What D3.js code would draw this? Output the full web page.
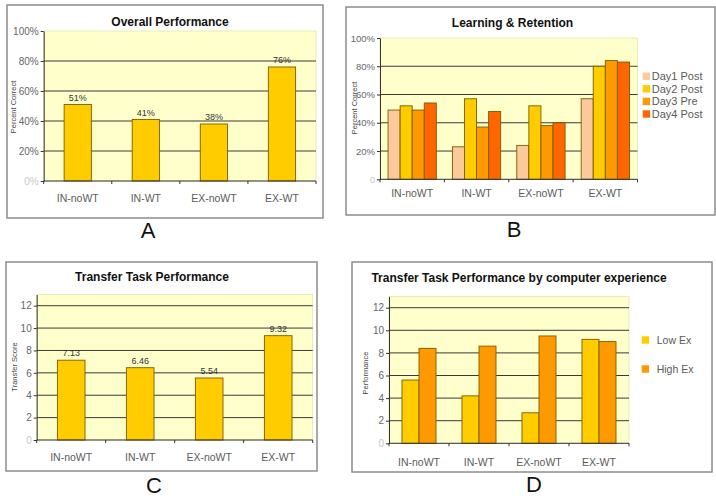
<!DOCTYPE html>
<html><head><meta charset="utf-8">
<script src="https://cdn.jsdelivr.net/npm/d3@7"></script>
<style>
body{margin:0;background:#fff}
svg{display:block}
text{font-family:"Liberation Sans",Arial,sans-serif}
</style>
</head><body>
<svg id="chart" width="716" height="496"></svg>
<script>
// Groups compared in every panel
const categories = ["IN-noWT", "IN-WT", "EX-noWT", "EX-WT"];

// A: overall percent correct
const overallPct = [51, 41, 38, 76];

// B: learning & retention, percent correct per day (rows follow categories)
const retentionSeries = ["Day1 Post", "Day2 Post", "Day3 Pre", "Day4 Post"];
const retentionPct = [
  [49, 52, 49, 54],
  [23, 57, 37, 48],
  [24, 52, 38, 40],
  [57, 80, 84, 83]
];

// C: transfer task score
const transferScore = [7.13, 6.46, 5.54, 9.32];

// D: transfer performance split by computer experience (rows follow categories)
const experienceSeries = ["Low Ex", "High Ex"];
const experienceScore = [
  [5.6, 8.4],
  [4.2, 8.6],
  [2.7, 9.5],
  [9.2, 9.0]
];

const pctTicks = [0, 20, 40, 60, 80, 100];
const scoreTicks = [0, 2, 4, 6, 8, 10, 12];

const svg = d3.select("#chart");

function drawPanel(cfg) {
  const g = svg.append("g");

  // outer frame
  g.append("rect")
    .attr("x", cfg.frame[0]).attr("y", cfg.frame[1])
    .attr("width", cfg.frame[2] - cfg.frame[0])
    .attr("height", cfg.frame[3] - cfg.frame[1])
    .attr("fill", "#fff").attr("stroke", "#8c8c8c").attr("stroke-width", 1.5);

  const x = d3.scaleBand().domain(categories)
    .range([cfg.left, cfg.right])
    .paddingInner(cfg.padIn).paddingOuter(cfg.padOut);
  const y = d3.scaleLinear().domain([0, cfg.max]).range([cfg.bottom, cfg.top]);

  // plot background
  g.append("rect")
    .attr("x", cfg.left).attr("y", y(cfg.max))
    .attr("width", cfg.right - cfg.left).attr("height", y(0) - y(cfg.max))
    .attr("fill", "#ffffcc").attr("stroke", "#e4e4b0").attr("stroke-width", 0.8);

  // horizontal gridlines
  g.selectAll(".grid").data(cfg.ticks.filter(t => t > 0 && t < cfg.max))
    .join("line")
    .attr("x1", cfg.left).attr("x2", cfg.right)
    .attr("y1", d => y(d)).attr("y2", d => y(d))
    .attr("stroke", "#3a3a3a").attr("stroke-width", 1);

  // bars
  if (cfg.series) {
    const xs = d3.scaleBand().domain(cfg.series).range([0, x.bandwidth()]);
    const grp = g.selectAll(".grp").data(categories).join("g")
      .attr("transform", c => `translate(${x(c)},0)`);
    grp.selectAll("rect")
      .data((c, i) => cfg.series.map((s, j) => ({s, v: cfg.values[i][j]})))
      .join("rect")
      .attr("x", d => xs(d.s)).attr("width", xs.bandwidth())
      .attr("y", d => y(d.v)).attr("height", d => y(0) - y(d.v))
      .attr("fill", d => cfg.colors[cfg.series.indexOf(d.s)])
      .attr("stroke", "#7a5c00").attr("stroke-width", 0.9);
  } else {
    const data = categories.map((c, i) => ({c, v: cfg.values[i]}));
    g.selectAll(".bar").data(data).join("rect")
      .attr("x", d => x(d.c)).attr("width", x.bandwidth())
      .attr("y", d => y(d.v)).attr("height", d => y(0) - y(d.v))
      .attr("fill", "#ffcc00").attr("stroke", "#7a5c00").attr("stroke-width", 0.9);
    g.selectAll(".val").data(data).join("text")
      .attr("x", d => x(d.c) + x.bandwidth() / 2)
      .attr("y", d => y(d.v) - 4)
      .attr("text-anchor", "middle")
      .attr("font-size", 9).attr("fill", "#333")
      .text(d => cfg.valueFormat(d.v));
  }

  // value axis
  const ya = g.append("g").attr("transform", `translate(${cfg.left},0)`)
    .call(d3.axisLeft(y).tickValues(cfg.ticks).tickSize(3).tickSizeOuter(0)
      .tickPadding(2).tickFormat(cfg.tickFormat));
  ya.select(".domain").attr("stroke", "#333");
  ya.selectAll(".tick line").attr("stroke", "#333");
  ya.selectAll(".tick text")
    .attr("font-family", '"Liberation Sans",Arial,sans-serif')
    .attr("font-size", cfg.tickSize)
    .attr("fill", d => d === 0 ? "#c8c8c8" : "#666");

  // category axis line with boundary ticks
  g.append("line")
    .attr("x1", cfg.left).attr("x2", cfg.right)
    .attr("y1", y(0)).attr("y2", y(0))
    .attr("stroke", "#333");
  const bounds = d3.range(categories.length + 1).map(i => cfg.left + i * (cfg.right - cfg.left) / categories.length);
  g.selectAll(".bt").data(bounds).join("line")
    .attr("x1", d => d).attr("x2", d => d)
    .attr("y1", y(0)).attr("y2", y(0) + 3)
    .attr("stroke", "#333");

  // category labels
  g.selectAll(".cat").data(categories).join("text")
    .attr("x", c => x(c) + x.bandwidth() / 2)
    .attr("y", cfg.catY)
    .attr("text-anchor", "middle")
    .attr("font-size", 10.5).attr("fill", "#5c5c5c")
    .text(c => c);

  // titles
  g.append("text").attr("x", cfg.titleX).attr("y", cfg.titleY)
    .attr("text-anchor", "middle").attr("font-weight", "bold")
    .attr("font-size", 12).attr("fill", "#111").text(cfg.title);
  g.append("text")
    .attr("transform", `translate(${cfg.yTitle[0]},${cfg.yTitle[1]}) rotate(-90)`)
    .attr("text-anchor", "middle").attr("font-size", 7.5).attr("fill", "#444")
    .text(cfg.yLabel);

  // panel letter
  g.append("text").attr("x", cfg.letter[0]).attr("y", cfg.letter[1])
    .attr("text-anchor", "middle").attr("font-size", 22).attr("fill", "#111")
    .text(cfg.letter[2]);

  // legend
  if (cfg.series) {
    const lg = g.selectAll(".lg").data(cfg.series).join("g")
      .attr("transform", (s, i) => `translate(${cfg.legend[0]},${cfg.legend[1] + i * cfg.legend[2]})`);
    lg.append("rect").attr("x", 0).attr("y", -3.7).attr("width", 7.4).attr("height", 7.4)
      .attr("fill", (s, i) => cfg.colors[i]);
    lg.append("text").attr("x", cfg.legend[3]).attr("y", 4)
      .attr("font-family", '"DejaVu Sans",Verdana,sans-serif')
      .attr("font-size", cfg.legend[4]).attr("fill", "#5a5a5a").text(s => s);
  }
}

drawPanel({
  frame: [7, 5, 323, 218], left: 43.7, right: 316, bottom: 181, top: 31,
  max: 100, ticks: pctTicks, padIn: 0.6, padOut: 0.3, tickSize: 10,
  values: overallPct, valueFormat: v => v + "%",
  tickFormat: d => d + "%",
  catY: 202, title: "Overall Performance", titleX: 170, titleY: 25.5,
  yLabel: "Percent Correct", yTitle: [16, 107], letter: [148, 238, "A"]
});

drawPanel({
  frame: [346, 7, 715, 215], left: 380, right: 637.5, bottom: 179.3, top: 38,
  max: 100, ticks: pctTicks, padIn: 0.25, padOut: 0.125, tickSize: 9.5,
  series: retentionSeries, values: retentionPct,
  colors: ["#fcc99a", "#ffcc00", "#ff9900", "#ff6600"],
  tickFormat: d => d === 0 ? "0" : d + "%",
  catY: 196.5, title: "Learning & Retention", titleX: 512.5, titleY: 26.5,
  yLabel: "Percent Correct", yTitle: [357, 108], letter: [514, 237, "B"],
  legend: [642.7, 76.2, 12.6, 9, 11]
});

drawPanel({
  frame: [6, 262, 317, 471], left: 36.7, right: 312.7, bottom: 440, top: 294.5,
  max: 13, ticks: scoreTicks, padIn: 0.6, padOut: 0.3, tickSize: 10,
  values: transferScore, valueFormat: v => v.toFixed(2),
  tickFormat: d => String(d),
  catY: 461, title: "Transfer Task Performance", titleX: 152, titleY: 281,
  yLabel: "Transfer Score", yTitle: [17, 367], letter: [154, 492.5, "C"]
});

drawPanel({
  frame: [352, 262, 712, 472], left: 389, right: 629, bottom: 443.3, top: 296.4,
  max: 13, ticks: scoreTicks, padIn: 0.433, padOut: 0.2165, tickSize: 10,
  series: experienceSeries, values: experienceScore,
  colors: ["#ffcc00", "#ff9900"],
  tickFormat: d => String(d),
  catY: 466, title: "Transfer Task Performance by computer experience", titleX: 519, titleY: 281.5,
  yLabel: "Performance", yTitle: [368, 373], letter: [534, 491.5, "D"],
  legend: [641.7, 340, 29, 15, 10.5]
});
</script>
</body></html>
